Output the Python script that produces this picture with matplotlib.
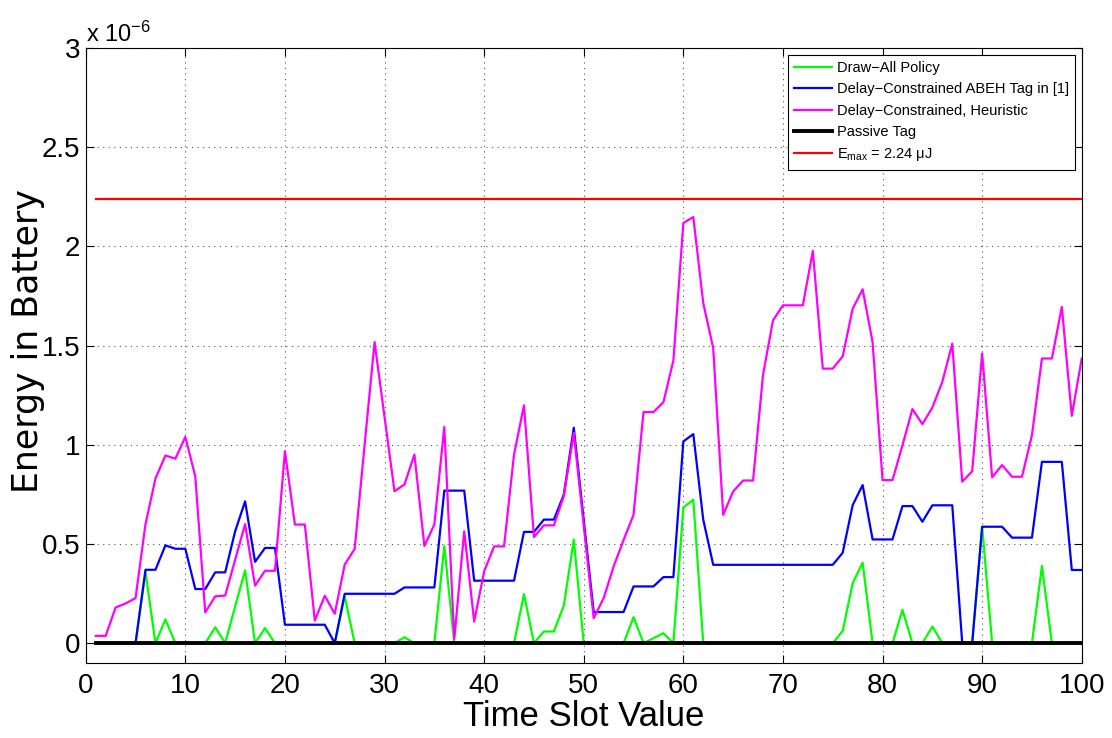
import numpy as np
import matplotlib
matplotlib.use("Agg")
import matplotlib.pyplot as plt

plt.rcParams['font.family'] = ['Liberation Sans', 'DejaVu Sans']
plt.rcParams['mathtext.fontset'] = 'custom'
plt.rcParams['mathtext.rm'] = 'Liberation Sans'
plt.rcParams['mathtext.it'] = 'Liberation Sans'

# time slots 1..100, energy in units of 1e-6 J
slots = np.arange(1, 101)

draw_all = [0, 0, 0, 0, 0, 0.36, 0, 0.12, 0, 0,
            0, 0, 0.08, 0, 0.185, 0.367, 0, 0.076, 0, 0,
            0, 0, 0, 0, 0, 0.236, 0, 0, 0, 0,
            0, 0.03, 0, 0, 0, 0.49, 0, 0, 0, 0,
            0, 0, 0, 0.247, 0, 0.059, 0.059, 0.19, 0.522, 0,
            0, 0, 0, 0, 0.131, 0, 0.025, 0.05, 0, 0.684,
            0.723, 0, 0, 0, 0, 0, 0, 0, 0, 0,
            0, 0, 0, 0, 0, 0.062, 0.302, 0.406, 0, 0,
            0, 0.168, 0, 0, 0.084, 0, 0, 0, 0, 0.587,
            0, 0, 0, 0, 0, 0.389, 0, 0, 0, 0]

abeh = [0, 0, 0, 0, 0, 0.37, 0.37, 0.493, 0.476, 0.476,
        0.273, 0.273, 0.357, 0.357, 0.564, 0.715, 0.41, 0.48, 0.48, 0.093,
        0.093, 0.093, 0.093, 0.093, 0.0, 0.249, 0.249, 0.249, 0.249, 0.249,
        0.249, 0.281, 0.281, 0.281, 0.281, 0.769, 0.769, 0.769, 0.315, 0.315,
        0.315, 0.315, 0.315, 0.561, 0.561, 0.623, 0.623, 0.749, 1.086, 0.62,
        0.157, 0.157, 0.157, 0.157, 0.286, 0.286, 0.286, 0.333, 0.333, 1.017,
        1.054, 0.622, 0.395, 0.395, 0.395, 0.395, 0.395, 0.395, 0.395, 0.395,
        0.395, 0.395, 0.395, 0.395, 0.395, 0.456, 0.696, 0.797, 0.523, 0.523,
        0.523, 0.691, 0.691, 0.612, 0.695, 0.695, 0.695, 0, 0, 0.587,
        0.587, 0.587, 0.532, 0.532, 0.532, 0.914, 0.914, 0.914, 0.369, 0.369]

heuristic = [0.037, 0.037, 0.18, 0.20, 0.227, 0.60, 0.83, 0.946, 0.93, 1.04,
             0.84, 0.155, 0.236, 0.24, 0.42, 0.60, 0.29, 0.365, 0.365, 0.968,
             0.598, 0.598, 0.114, 0.239, 0.148, 0.396, 0.475, 1.0, 1.518, 1.14,
             0.766, 0.80, 0.951, 0.49, 0.598, 1.09, 0.02, 0.564, 0.109, 0.362,
             0.488, 0.488, 0.951, 1.199, 0.535, 0.594, 0.594, 0.741, 1.06, 0.593,
             0.126, 0.227, 0.387, 0.52, 0.647, 1.165, 1.165, 1.215, 1.425, 2.118,
             2.148, 1.714, 1.487, 0.647, 0.765, 0.82, 0.82, 1.353, 1.627, 1.703,
             1.703, 1.703, 1.977, 1.384, 1.384, 1.446, 1.686, 1.784, 1.518, 0.822,
             0.822, 0.998, 1.18, 1.104, 1.188, 1.317, 1.51, 0.814, 0.867, 1.46,
             0.836, 0.898, 0.839, 0.839, 1.049, 1.435, 1.435, 1.695, 1.146, 1.435]

passive = [0] * 100
e_max = 2.24

fig = plt.figure(figsize=(11.12, 7.38), dpi=100)
ax = fig.add_axes([0.0771, 0.1016, 0.8957, 0.8333])

lw = 1.6
ax.plot(slots, draw_all, color='#00ff00', lw=lw, label='Draw\u2212All Policy')
ax.plot(slots, abeh, color='#0000ff', lw=lw, label='Delay\u2212Constrained ABEH Tag in [1]')
ax.plot(slots, heuristic, color='#ff00ff', lw=lw, label='Delay\u2212Constrained, Heuristic')
ax.plot(slots, passive, color='black', lw=2.8, label='Passive Tag')
ax.plot(slots, [e_max] * len(slots), color='#ff0000', lw=lw,
        label='E$_{\\mathrm{max}}$ = 2.24 \u03bcJ')

ax.set_xlim(0, 100)
ax.set_ylim(-0.1, 3)
ax.set_xticks(np.arange(0, 101, 10))
ax.set_yticks(np.arange(0, 3.01, 0.5))
ax.set_yticklabels(['0', '0.5', '1', '1.5', '2', '2.5', '3'])
ax.tick_params(direction='in', labelsize=20, length=6, top=True, right=True, width=0.8)
ax.tick_params(axis='x', pad=7)
ax.tick_params(axis='y', pad=4)
ax.grid(True, linestyle=(0, (1, 4)), color='#555555', lw=0.8)
for s in ax.spines.values():
    s.set_linewidth(0.8)

ax.set_xlabel('Time Slot Value', fontsize=25, labelpad=1)
ax.set_ylabel('Energy in Battery', fontsize=25, family=['DejaVu Sans'])
ax.yaxis.set_label_coords(-0.041, 0.524)
fig.text(0.077, 0.943, 'x 10$^{-6}$', fontsize=17, ha='left', va='baseline')

leg = ax.legend(loc='upper right', fontsize=10.5, fancybox=False, framealpha=1,
                edgecolor='black', handlelength=2.6, handletextpad=0.3,
                borderaxespad=0.45, labelspacing=0.5, borderpad=0.45)
leg.get_frame().set_linewidth(0.8)

fig.savefig('out.png', dpi=100)
